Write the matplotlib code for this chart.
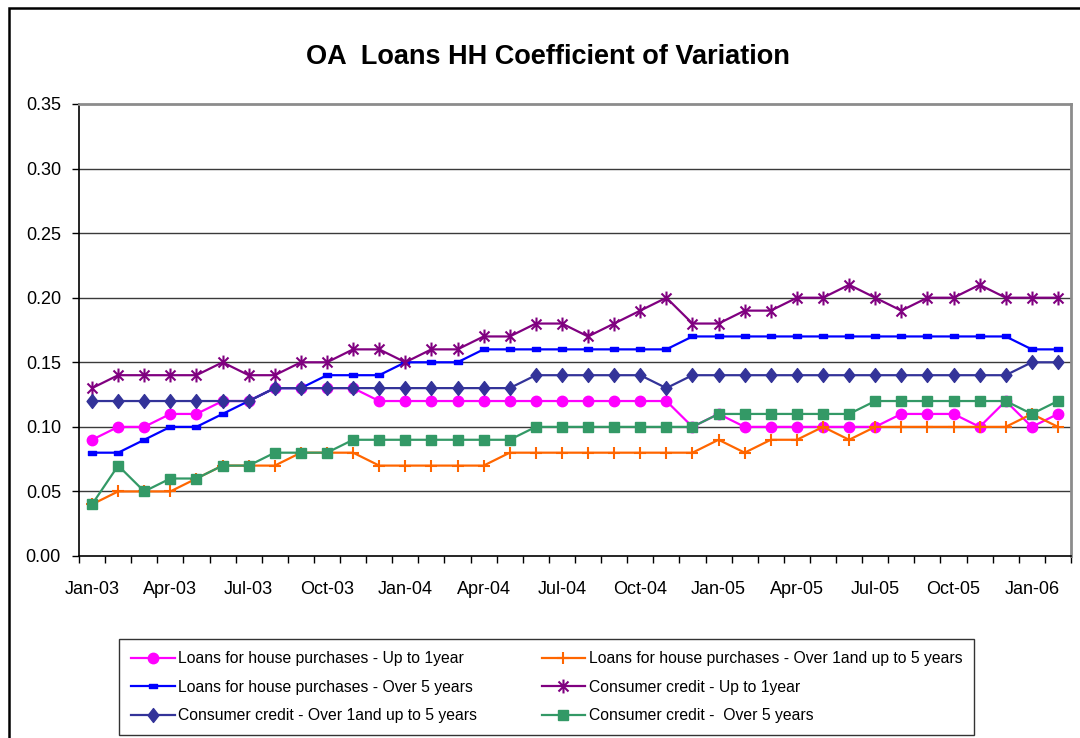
import matplotlib
matplotlib.use("Agg")
import matplotlib.pyplot as plt
from matplotlib.path import Path
from matplotlib.patches import Rectangle

# Monthly categories Jan-03 .. Feb-06
months = ["Jan-03", "Feb-03", "Mar-03", "Apr-03", "May-03", "Jun-03", "Jul-03", "Aug-03",
          "Sep-03", "Oct-03", "Nov-03", "Dec-03", "Jan-04", "Feb-04", "Mar-04", "Apr-04",
          "May-04", "Jun-04", "Jul-04", "Aug-04", "Sep-04", "Oct-04", "Nov-04", "Dec-04",
          "Jan-05", "Feb-05", "Mar-05", "Apr-05", "May-05", "Jun-05", "Jul-05", "Aug-05",
          "Sep-05", "Oct-05", "Nov-05", "Dec-05", "Jan-06", "Feb-06"]
tick_labels = ["Jan-03", "Apr-03", "Jul-03", "Oct-03", "Jan-04", "Apr-04", "Jul-04",
               "Oct-04", "Jan-05", "Apr-05", "Jul-05", "Oct-05", "Jan-06"]

house_up_to_1y = [0.09, 0.10, 0.10, 0.11, 0.11, 0.12, 0.12, 0.13, 0.13, 0.13, 0.13, 0.12,
                  0.12, 0.12, 0.12, 0.12, 0.12, 0.12, 0.12, 0.12, 0.12, 0.12, 0.12, 0.10,
                  0.11, 0.10, 0.10, 0.10, 0.10, 0.10, 0.10, 0.11, 0.11, 0.11, 0.10, 0.12,
                  0.10, 0.11]
house_1_to_5y = [0.04, 0.05, 0.05, 0.05, 0.06, 0.07, 0.07, 0.07, 0.08, 0.08, 0.08, 0.07,
                 0.07, 0.07, 0.07, 0.07, 0.08, 0.08, 0.08, 0.08, 0.08, 0.08, 0.08, 0.08,
                 0.09, 0.08, 0.09, 0.09, 0.10, 0.09, 0.10, 0.10, 0.10, 0.10, 0.10, 0.10,
                 0.11, 0.10]
house_over_5y = [0.08, 0.08, 0.09, 0.10, 0.10, 0.11, 0.12, 0.13, 0.13, 0.14, 0.14, 0.14,
                 0.15, 0.15, 0.15, 0.16, 0.16, 0.16, 0.16, 0.16, 0.16, 0.16, 0.16, 0.17,
                 0.17, 0.17, 0.17, 0.17, 0.17, 0.17, 0.17, 0.17, 0.17, 0.17, 0.17, 0.17,
                 0.16, 0.16]
consumer_up_to_1y = [0.13, 0.14, 0.14, 0.14, 0.14, 0.15, 0.14, 0.14, 0.15, 0.15, 0.16, 0.16,
                     0.15, 0.16, 0.16, 0.17, 0.17, 0.18, 0.18, 0.17, 0.18, 0.19, 0.20, 0.18,
                     0.18, 0.19, 0.19, 0.20, 0.20, 0.21, 0.20, 0.19, 0.20, 0.20, 0.21, 0.20,
                     0.20, 0.20]
consumer_1_to_5y = [0.12, 0.12, 0.12, 0.12, 0.12, 0.12, 0.12, 0.13, 0.13, 0.13, 0.13, 0.13,
                    0.13, 0.13, 0.13, 0.13, 0.13, 0.14, 0.14, 0.14, 0.14, 0.14, 0.13, 0.14,
                    0.14, 0.14, 0.14, 0.14, 0.14, 0.14, 0.14, 0.14, 0.14, 0.14, 0.14, 0.14,
                    0.15, 0.15]
consumer_over_5y = [0.04, 0.07, 0.05, 0.06, 0.06, 0.07, 0.07, 0.08, 0.08, 0.08, 0.09, 0.09,
                    0.09, 0.09, 0.09, 0.09, 0.09, 0.10, 0.10, 0.10, 0.10, 0.10, 0.10, 0.10,
                    0.11, 0.11, 0.11, 0.11, 0.11, 0.11, 0.12, 0.12, 0.12, 0.12, 0.12, 0.12,
                    0.11, 0.12]

series_labels = [
    "Loans for house purchases - Up to 1year",
    "Loans for house purchases - Over 1and up to 5 years",
    "Loans for house purchases - Over 5 years",
    "Consumer credit - Up to 1year",
    "Consumer credit - Over 1and up to 5 years",
    "Consumer credit -  Over 5 years",
]

plt.rcParams["font.family"] = ["Liberation Sans", "DejaVu Sans"]

# custom markers: six-armed asterisk, short horizontal dash, slightly narrow diamond
asterisk = Path([(0, -1), (0, 1), (-0.72, -0.72), (0.72, 0.72), (-0.72, 0.72), (0.72, -0.72)],
                [Path.MOVETO, Path.LINETO] * 3)
dash = Path([(-1, -0.55), (1, -0.55), (1, 0.55), (-1, 0.55), (-1, -0.55)],
            [Path.MOVETO, Path.LINETO, Path.LINETO, Path.LINETO, Path.CLOSEPOLY])
diamond = Path([(0, -1), (0.78, 0), (0, 1), (-0.78, 0), (0, -1)],
               [Path.MOVETO, Path.LINETO, Path.LINETO, Path.LINETO, Path.CLOSEPOLY])

styles = [
    dict(color="#FF00FF", marker="o", markersize=7.5, mec="#FF00FF", mfc="#FF00FF"),
    dict(color="#FF6600", marker="+", markersize=9, mew=1.5),
    dict(color="#0000FF", marker=dash, markersize=5.5, mec="#0000FF", mfc="#0000FF"),
    dict(color="#800080", marker=asterisk, markersize=10, mew=1.5, mfc="none"),
    dict(color="#333399", marker=diamond, markersize=10, mec="#333399", mfc="#333399"),
    dict(color="#339966", marker="s", markersize=7.5, mec="#339966", mfc="#339966"),
]
data = [house_up_to_1y, house_1_to_5y, house_over_5y,
        consumer_up_to_1y, consumer_1_to_5y, consumer_over_5y]

W, H = 1080, 738
fig = plt.figure(figsize=(W / 100, H / 100), dpi=100)
ax = fig.add_axes([79 / W, 1 - 556 / H, 992 / W, (556 - 104) / H])

x = list(range(len(months)))
handles = []
for vals, lab, st in zip(data, series_labels, styles):
    h, = ax.plot(x, vals, lw=1.6, label=lab, **st)
    handles.append(h)

ax.set_xlim(-0.5, len(months) - 0.5)
ax.set_ylim(0, 0.35)
yt = [i * 0.05 for i in range(8)]
ax.set_yticks(yt)
ax.set_yticklabels([f"{v:.2f}" for v in yt])
for v in yt[1:-1]:
    ax.axhline(v, color="#3a3a3a", lw=1.0, zorder=0.5)

# tick marks between categories, labels at every third month
ax.set_xticks([i - 0.5 for i in range(len(months) + 1)])
ax.set_xticklabels([])
ax.set_xticks([months.index(t) for t in tick_labels], minor=True)
ax.set_xticklabels(tick_labels, minor=True)
ax.tick_params(axis="x", which="major", direction="out", length=5, width=1, color="black")
ax.tick_params(axis="x", which="minor", length=0, pad=18, labelsize=13)
ax.tick_params(axis="y", direction="out", length=5, width=1, pad=8, labelsize=13)

for side in ("left", "bottom"):
    ax.spines[side].set_color("black")
    ax.spines[side].set_linewidth(1.2)
for side in ("top", "right"):
    ax.spines[side].set_color("#8c8c8c")
    ax.spines[side].set_linewidth(2)

fig.text(548 / W, 1 - 57 / H, "OA  Loans HH Coefficient of Variation",
         ha="center", va="center", fontsize=19.5, fontweight="bold")

order = [0, 2, 4, 1, 3, 5]
leg = fig.legend([handles[i] for i in order], [series_labels[i] for i in order],
                 ncol=2, loc="lower left", mode="expand",
                 bbox_to_anchor=(119 / W, 1 - 735 / H, (974 - 119) / W, (735 - 641) / H),
                 fontsize=11.3, frameon=True, fancybox=False, shadow=False,
                 handlelength=2.8, handletextpad=0.2, labelspacing=0.86,
                 borderpad=0.75, borderaxespad=0, columnspacing=1.0)
leg.get_frame().set_edgecolor("black")
leg.get_frame().set_linewidth(1.0)

# outer chart frame
fig.patches.append(Rectangle((8.5 / W, -0.1), 1.2, 1 - 8.5 / H + 0.1,
                             transform=fig.transFigure, fill=False,
                             edgecolor="black", lw=1.8, clip_on=False))

fig.savefig("out.png", dpi=100)
